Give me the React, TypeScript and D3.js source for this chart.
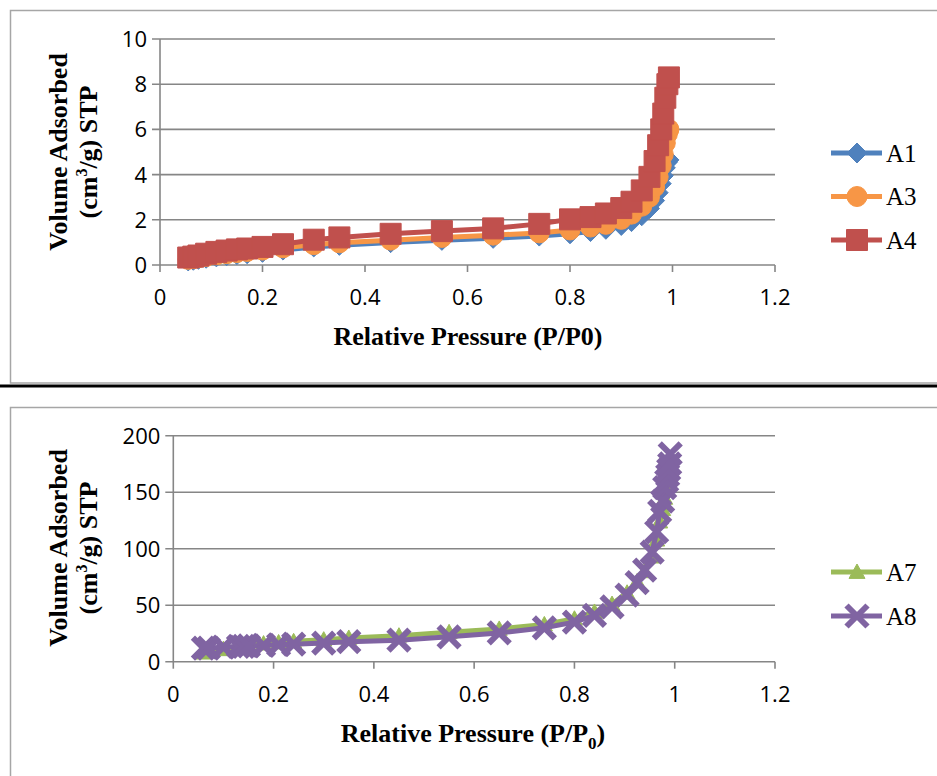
import { useEffect, useRef } from 'react';
import * as d3 from 'd3';

// relative pressure points, upper chart
const pressureTop = [0.055, 0.065, 0.075, 0.09, 0.11, 0.13, 0.15, 0.17, 0.2, 0.24, 0.3, 0.35, 0.45, 0.55, 0.65,
  0.74, 0.8, 0.84, 0.87, 0.9, 0.92, 0.94, 0.955, 0.965, 0.972, 0.978, 0.982, 0.986, 0.99, 0.993];
const a1 = [0.18, 0.21, 0.25, 0.3, 0.36, 0.41, 0.46, 0.5, 0.56, 0.66, 0.8, 0.87, 0.99, 1.09, 1.18,
  1.28, 1.38, 1.48, 1.58, 1.75, 1.92, 2.18, 2.5, 2.85, 3.2, 3.6, 3.95, 4.3, 4.55, 4.65];
const a3 = [0.25, 0.28, 0.32, 0.38, 0.45, 0.5, 0.55, 0.6, 0.66, 0.76, 0.9, 0.98, 1.1, 1.22, 1.32,
  1.42, 1.55, 1.68, 1.8, 2.02, 2.25, 2.6, 3.0, 3.45, 3.9, 4.4, 4.9, 5.4, 5.8, 6.0];
const a4 = [0.33, 0.37, 0.42, 0.5, 0.58, 0.64, 0.69, 0.73, 0.8, 0.92, 1.12, 1.22, 1.38, 1.5, 1.62,
  1.82, 2.02, 2.12, 2.28, 2.52, 2.8, 3.3, 3.9, 4.6, 5.3, 6.0, 6.7, 7.4, 8.0, 8.3];

// relative pressure points, lower chart
const pressureBottom = [0.06, 0.07, 0.1, 0.13, 0.14, 0.15, 0.18, 0.21, 0.24, 0.3, 0.35, 0.45, 0.55, 0.65, 0.74,
  0.8, 0.84, 0.875, 0.905, 0.925, 0.94, 0.955, 0.964, 0.97, 0.976, 0.98, 0.984, 0.986, 0.988, 0.99, 0.991];
const a7 = [8, 9, 11, 13, 14, 15, 16, 17, 18, 19.5, 21, 23, 26, 29, 33,
  38, 44, 51, 61, 71, 80, 93, 108, 124, 135, 145, 152, 158, 162, 168, 172];
const a8 = [12, 12, 13, 13.5, 13.5, 14, 14.5, 15, 15.5, 16.5, 17.7, 19, 22, 25.5, 30,
  35, 41, 48.5, 59, 70, 81, 97, 115, 133, 142, 154, 160, 165, 170, 175, 184];

const xTicks = [0, 0.2, 0.4, 0.6, 0.8, 1, 1.2];
const yTicksTop = [0, 2, 4, 6, 8, 10];
const yTicksBottom = [0, 50, 100, 150, 200];

const GRID = '#868686';
const serif = '"Liberation Serif", "Times New Roman", serif';
const sans = '"Open Sans", "Liberation Sans", sans-serif';

const markerPath = (shape, s) => {
  const h = s / 2;
  if (shape === 'diamond') return `M0,${-h}L${h},0L0,${h}L${-h},0Z`;
  if (shape === 'square') return `M${-h},${-h}h${s}v${s}h${-s}Z`;
  if (shape === 'triangle') return `M0,${-h}L${h},${h * 0.8}L${-h},${h * 0.8}Z`;
  if (shape === 'x') return `M${-h},${-h}L${h},${h}M${h},${-h}L${-h},${h}`;
  return d3.symbol(d3.symbolCircle, Math.PI * h * h)();
};

const drawMarker = (g, s, x, y) => {
  const p = g.append('path')
    .attr('transform', `translate(${x},${y})`)
    .attr('d', markerPath(s.shape, s.size));
  if (s.shape === 'x') {
    p.attr('fill', 'none').attr('stroke', s.color).attr('stroke-width', 6);
  } else {
    p.attr('fill', s.color).attr('stroke', s.color).attr('stroke-width', 1)
      .attr('stroke-linejoin', 'round');
  }
};

const drawPanel = (svg, cfg) => {
  const { x, y } = cfg;
  const g = svg.append('g');

  // grid + axes
  g.selectAll('.grid').data(cfg.yTicks).join('line')
    .attr('x1', x.range()[0] - 8).attr('x2', x.range()[1])
    .attr('y1', d => y(d)).attr('y2', d => y(d))
    .attr('stroke', GRID).attr('stroke-width', 1.6);
  g.append('line')
    .attr('x1', x.range()[0]).attr('x2', x.range()[0])
    .attr('y1', y.range()[0]).attr('y2', y.range()[1])
    .attr('stroke', GRID).attr('stroke-width', 1.6);
  g.selectAll('.xt').data(xTicks).join('line')
    .attr('x1', d => x(d)).attr('x2', d => x(d))
    .attr('y1', y.range()[0]).attr('y2', y.range()[0] + 7)
    .attr('stroke', GRID).attr('stroke-width', 1.6);

  g.selectAll('.yl').data(cfg.yTicks).join('text')
    .attr('x', x.range()[0] - 13).attr('y', d => y(d))
    .attr('dy', '0.36em').attr('text-anchor', 'end')
    .style('font-family', sans).style('font-size', '22px')
    .text(d => d);
  g.selectAll('.xl').data(xTicks).join('text')
    .attr('x', d => x(d)).attr('y', y.range()[0] + 40)
    .attr('text-anchor', 'middle')
    .style('font-family', sans).style('font-size', '22px')
    .text(d => d);

  // series
  cfg.series.forEach(s => {
    const pts = cfg.pressure.map((p, i) => [x(p), y(s.values[i])]);
    g.append('path')
      .attr('d', d3.line()(pts))
      .attr('fill', 'none').attr('stroke', s.color)
      .attr('stroke-width', 5).attr('stroke-linejoin', 'round');
    pts.forEach(([px, py]) => drawMarker(g, s, px, py));
  });

  // axis titles
  const xt = g.append('text')
    .attr('x', cfg.xTitleX).attr('y', cfg.xTitleY)
    .attr('text-anchor', 'middle')
    .style('font-family', serif).style('font-size', '26px').style('font-weight', 'bold');
  xt.append('tspan').text('Relative Pressure (P/P');
  if (cfg.subscript) {
    xt.append('tspan').attr('dy', 7).style('font-size', '17px').text('0');
    xt.append('tspan').attr('dy', -7).text(')');
  } else {
    xt.append('tspan').text('0)');
  }

  const yt = g.append('g')
    .attr('transform', `translate(0,${cfg.yTitleY}) rotate(-90)`)
    .style('font-family', serif).style('font-size', '26px').style('font-weight', 'bold');
  yt.append('text').attr('x', 0).attr('y', 67).attr('text-anchor', 'middle').text('Volume Adsorbed');
  const l2 = yt.append('text').attr('x', 0).attr('y', 97).attr('text-anchor', 'middle');
  l2.append('tspan').text('(cm');
  l2.append('tspan').attr('dy', -10).style('font-size', '16px').text('3');
  l2.append('tspan').attr('dy', 10).text('/g) STP');

  // legend
  cfg.series.forEach((s, i) => {
    const ly = cfg.legendY + i * cfg.legendGap;
    g.append('line')
      .attr('x1', 831).attr('x2', 882).attr('y1', ly).attr('y2', ly)
      .attr('stroke', s.color).attr('stroke-width', 5);
    drawMarker(g, s, 857, ly);
    g.append('text')
      .attr('x', 886).attr('y', ly).attr('dy', '0.35em')
      .style('font-family', serif).style('font-size', '25px')
      .text(s.name);
  });
};

export default function App() {
  const svgRef = useRef(null);

  useEffect(() => {
    const svg = d3.select(svgRef.current);
    svg.selectAll('*').remove();

    // frames
    svg.append('rect').attr('x', 10.5).attr('y', 10.5).attr('width', 940).attr('height', 372.5)
      .attr('fill', '#fff').attr('stroke', '#a6a6a6').attr('stroke-width', 1.5);
    svg.append('rect').attr('x', 10.5).attr('y', 407.5).attr('width', 940).attr('height', 400)
      .attr('fill', '#fff').attr('stroke', '#a6a6a6').attr('stroke-width', 1.5);
    svg.append('rect').attr('x', 0).attr('y', 384.5).attr('width', 937).attr('height', 3).attr('fill', '#000');

    drawPanel(svg, {
      x: d3.scaleLinear().domain([0, 1.2]).range([160, 775]),
      y: d3.scaleLinear().domain([0, 10]).range([265, 39]),
      yTicks: yTicksTop,
      pressure: pressureTop,
      series: [
        { name: 'A1', values: a1, color: '#4F81BD', shape: 'diamond', size: 20 },
        { name: 'A3', values: a3, color: '#F79646', shape: 'circle', size: 20 },
        { name: 'A4', values: a4, color: '#C0504D', shape: 'square', size: 21 },
      ],
      xTitleX: 468, xTitleY: 345, yTitleY: 152,
      legendY: 153, legendGap: 43.5, subscript: false,
    });

    drawPanel(svg, {
      x: d3.scaleLinear().domain([0, 1.2]).range([173.3, 775]),
      y: d3.scaleLinear().domain([0, 200]).range([661.7, 435.7]),
      yTicks: yTicksBottom,
      pressure: pressureBottom,
      series: [
        { name: 'A7', values: a7, color: '#9BBB59', shape: 'triangle', size: 16 },
        { name: 'A8', values: a8, color: '#8064A2', shape: 'x', size: 21 },
      ],
      xTitleX: 473, xTitleY: 742, yTitleY: 548,
      legendY: 572, legendGap: 44, subscript: true,
    });
  }, []);

  return (
    <svg ref={svgRef} width={937} height={776}
      style={{ position: 'absolute', left: 0, top: 0, background: '#fff' }} />
  );
}
